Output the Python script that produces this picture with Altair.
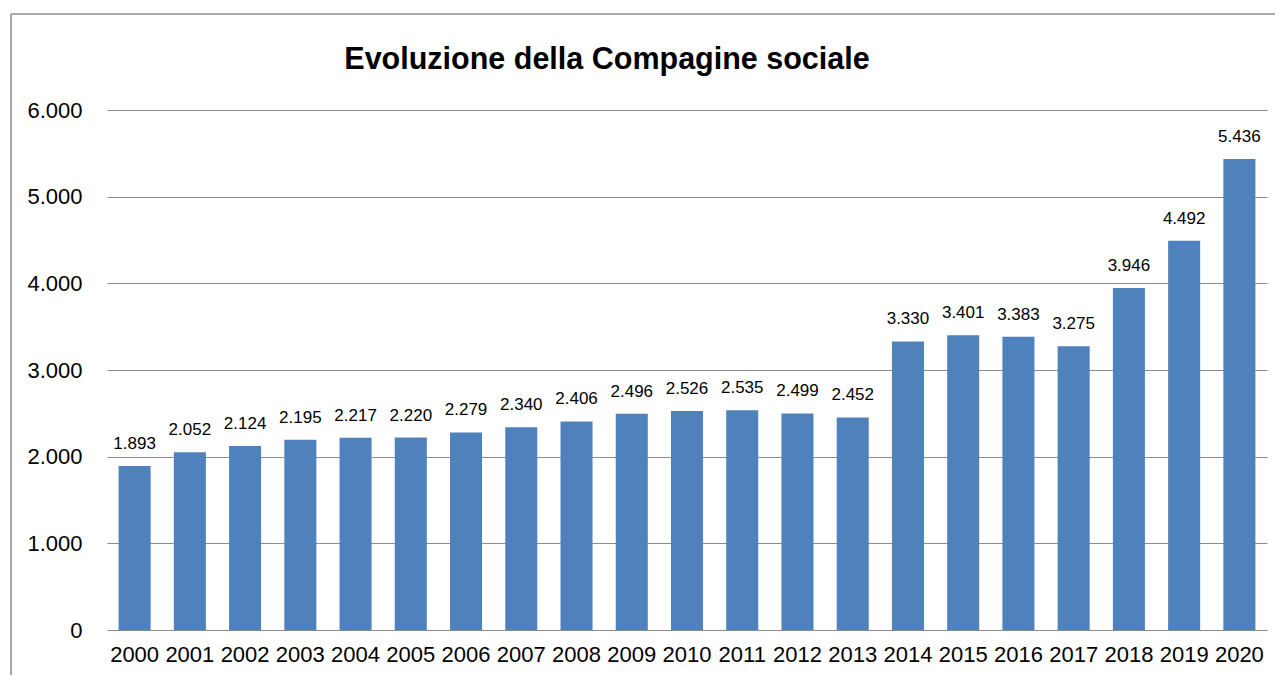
import altair as alt
import pandas as pd

years = ["2000", "2001", "2002", "2003", "2004", "2005", "2006", "2007", "2008", "2009", "2010",
         "2011", "2012", "2013", "2014", "2015", "2016", "2017", "2018", "2019", "2020"]
soci = [1893, 2052, 2124, 2195, 2217, 2220, 2279, 2340, 2406, 2496, 2526,
        2535, 2499, 2452, 3330, 3401, 3383, 3275, 3946, 4492, 5436]
y_ticks = [0, 1000, 2000, 3000, 4000, 5000, 6000]
title_text = "Evoluzione della Compagine sociale"

FONT = "Liberation Sans"

df = pd.DataFrame({"anno": years, "soci": soci})

base = alt.Chart(df).encode(
    x=alt.X("anno:N", sort=years,
            scale=alt.Scale(paddingInner=0.42, paddingOuter=0.21),
            axis=alt.Axis(title=None, labelAngle=0, ticks=False, domain=False,
                          labelFontSize=22, labelFont=FONT, labelColor="#000000",
                          labelPadding=14, grid=False)),
    y=alt.Y("soci:Q",
            scale=alt.Scale(domain=[0, 6000], nice=False),
            axis=alt.Axis(title=None, values=y_ticks, ticks=False, domain=False,
                          labelFontSize=22, labelFont=FONT, labelColor="#000000",
                          labelPadding=25, gridColor="#8c8c8c", gridWidth=1.2,
                          gridOpacity=1,
                          labelExpr="replace(format(datum.value, ','), ',', '.')")),
)

bars = base.mark_bar(color="#4F81BD")

labels = base.mark_text(baseline="alphabetic", dy=-17, font=FONT, fontSize=17,
                        color="#000000").transform_calculate(
    lbl="replace(format(datum.soci, ','), ',', '.')"
).encode(text="lbl:N")

frame_data = alt.Data(values=[{"k": 1}])
frame_left = alt.Chart(frame_data).mark_rule(color="#8c8c8c", strokeWidth=1.5).encode(
    x=alt.value(-96), y=alt.value(-96), y2=alt.value(700))
frame_top = alt.Chart(frame_data).mark_rule(color="#8c8c8c", strokeWidth=1.5).encode(
    x=alt.value(-96), x2=alt.value(1300), y=alt.value(-96))

chart = alt.layer(frame_left, frame_top, bars, labels).properties(
    width=1160, height=520,
    title=alt.TitleParams(title_text, anchor="middle", dx=-80, fontSize=30.5, font=FONT,
                          fontWeight="bold", color="#000000", baseline="alphabetic",
                          offset=-86),
    autosize=alt.AutoSizeParams(type="none"),
    padding={"left": 99, "top": 102, "right": 8, "bottom": 45},
).configure_view(stroke=None)

chart.save("out.html", embed_options={"renderer": "svg", "actions": False})
